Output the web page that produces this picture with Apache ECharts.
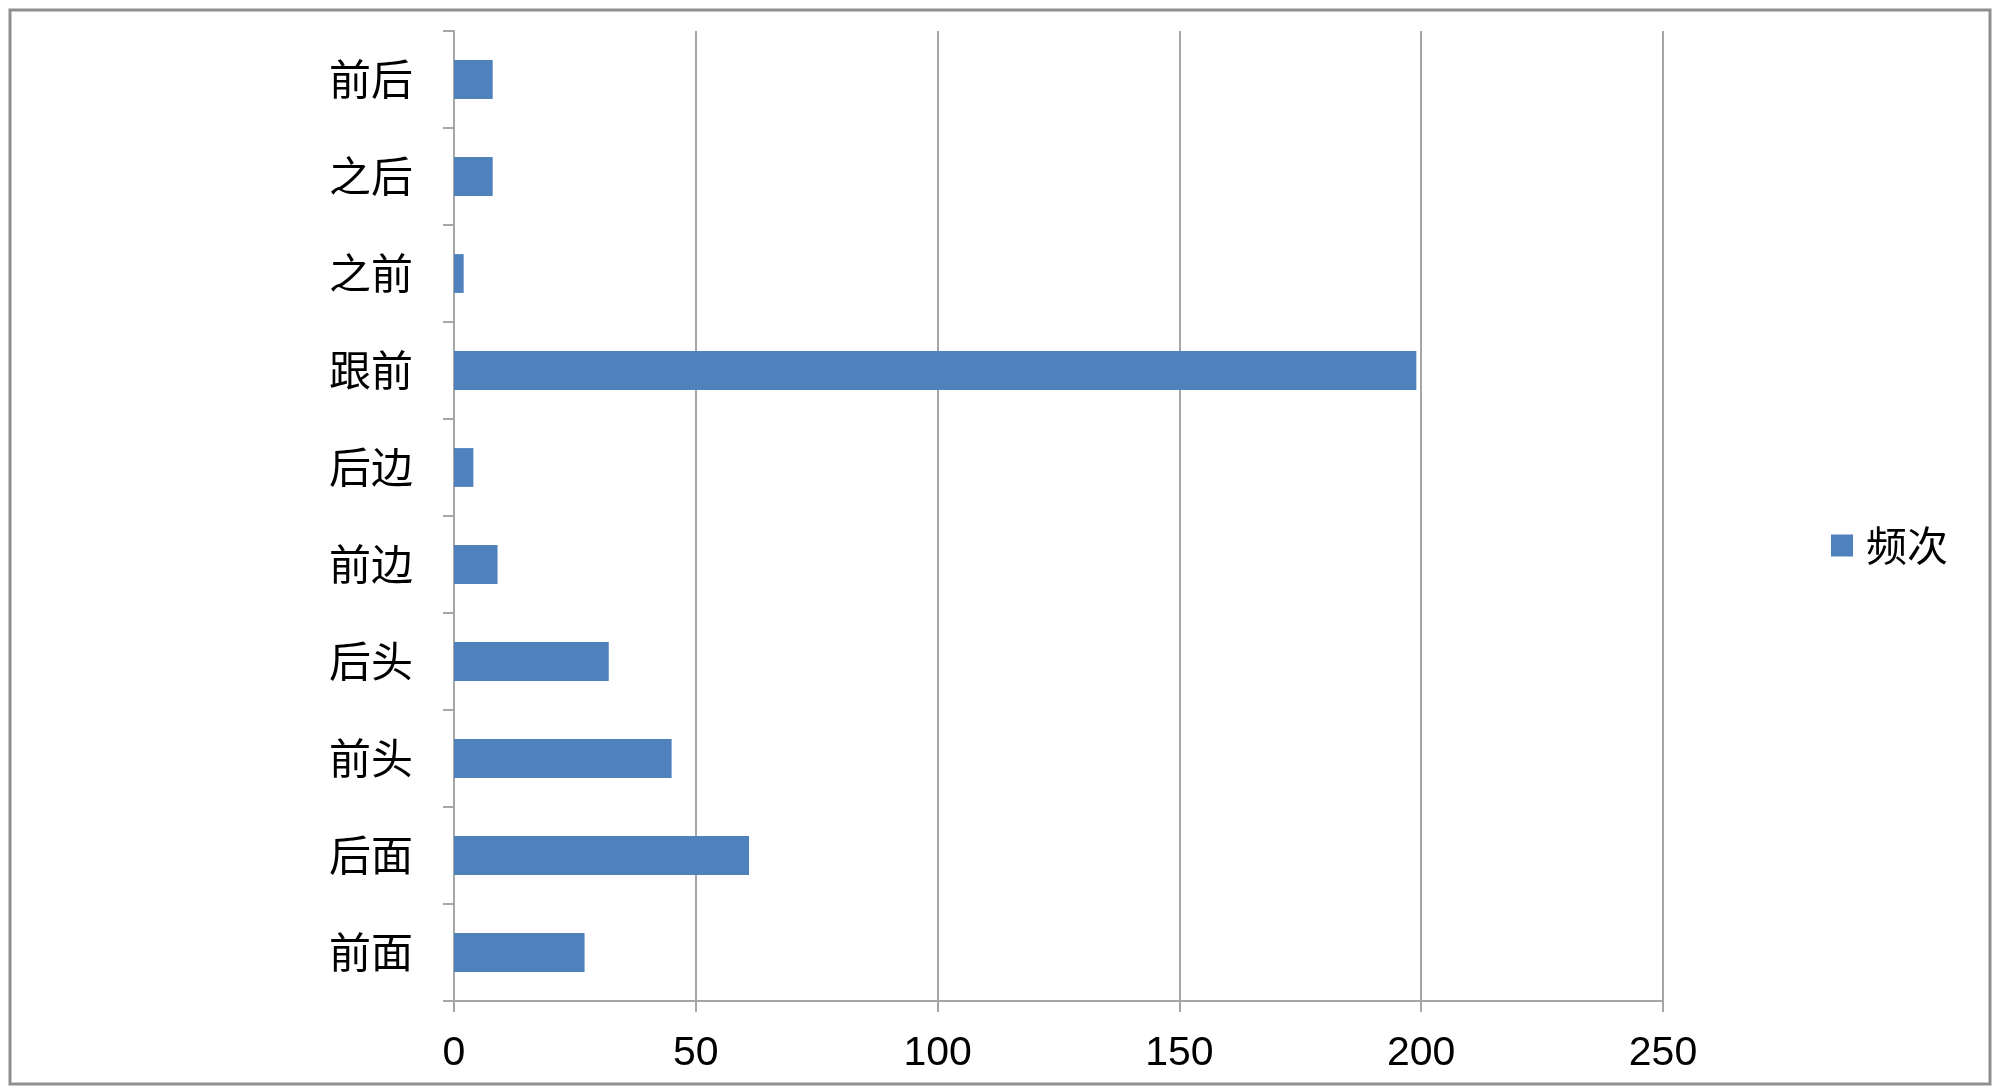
<!DOCTYPE html>
<html>
<head>
<meta charset="utf-8">
<script src="https://cdn.jsdelivr.net/npm/echarts@6/dist/echarts.min.js"></script>
<style>
html,body{margin:0;padding:0;background:#fff;}
#chart{width:2000px;height:1090px;}
</style>
</head>
<body>
<div id="chart"></div>
<script>
// Categories listed bottom to top (ECharts draws the first category at the bottom)
const categories = ['前面', '后面', '前头', '后头', '前边', '后边', '跟前', '之前', '之后', '前后'];
const seriesName = '频次';
const values = [27, 61, 45, 32, 9, 4, 199, 2, 8, 8];
const xTicks = [0, 50, 100, 150, 200, 250];

const chart = echarts.init(document.getElementById('chart'), null, {renderer: 'canvas'});
chart.setOption({
  backgroundColor: '#ffffff',
  animation: false,
  graphic: [{
    type: 'rect',
    shape: {x: 10, y: 10, width: 1980, height: 1074},
    style: {fill: 'none', stroke: '#8f8f8f', lineWidth: 3},
    silent: true
  }],
  grid: {left: 454, right: 337, top: 31, bottom: 89, containLabel: false},
  legend: {
    data: [seriesName],
    orient: 'vertical',
    left: 1826,
    top: 520,
    itemWidth: 22,
    itemHeight: 22,
    icon: 'rect',
    itemGap: 10,
    textStyle: {fontFamily: '"Noto Sans CJK SC"', fontSize: 41, color: '#000', padding: [0, 0, 0, 8]}
  },
  xAxis: {
    type: 'value',
    min: xTicks[0],
    max: xTicks[xTicks.length - 1],
    interval: 50,
    axisLine: {show: true, lineStyle: {color: '#a6a6a6', width: 2}},
    axisTick: {show: true, length: 11, lineStyle: {color: '#a6a6a6', width: 2}},
    splitLine: {show: true, lineStyle: {color: '#a6a6a6', width: 2}},
    axisLabel: {
      margin: 32,
      fontFamily: '"Liberation Sans", Arial, sans-serif',
      fontSize: 41,
      color: '#000'
    }
  },
  yAxis: {
    type: 'category',
    data: categories,
    boundaryGap: true,
    axisLine: {show: true, lineStyle: {color: '#a6a6a6', width: 2}},
    axisTick: {show: true, length: 11, inside: false, lineStyle: {color: '#a6a6a6', width: 2}},
    splitLine: {show: false},
    axisLabel: {
      margin: 41,
      fontFamily: '"Noto Sans CJK SC"',
      fontSize: 42,
      color: '#000'
    }
  },
  series: [{
    name: seriesName,
    type: 'bar',
    data: values,
    barCategoryGap: '60%',
    itemStyle: {color: '#4f81bd'}
  }]
});
</script>
</body>
</html>
